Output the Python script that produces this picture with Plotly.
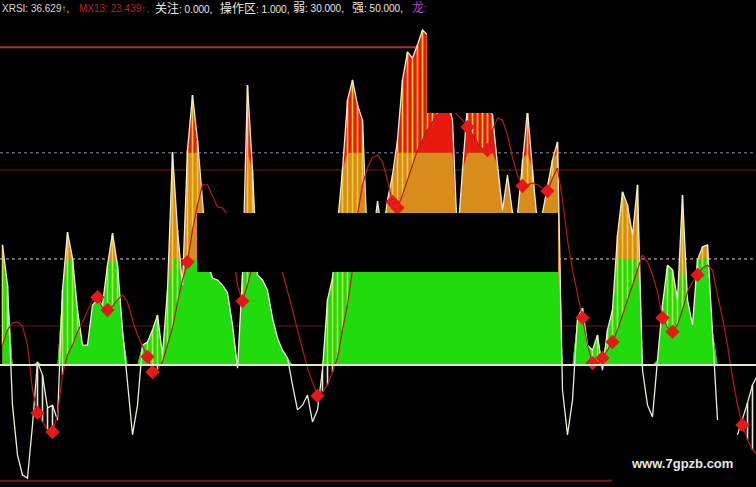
import numpy as np
import plotly.graph_objects as go

# ---------------- data (indicator units) ----------------
xrsi = [30.8, 20.5, -10.3, -23.1, -28.2, -29.0, -15.4, 0.8, -2.6, -11.0,
        -10.3, -14.1, 19.2, 34.1, 27.4, 14.1, 5.1, 5.1, 15.4, 16.7,
        15.4, 25.6, 33.8, 25.6, 9.0, -5.1, -17.9, -10.3, 5.1, 5.9,
        9.0, 12.8, 2.6, 19.2, 54.6, 34.6, 20.5, 55.1, 69.2, 57.7,
        41.0, 26.4, 22.3, 21.8, 20.5, 18.5, 10.3, -0.8, 23.1, 71.8,
        50.0, 23.1, 21.8, 19.2, 12.1, 6.9, 3.8, 1.8, -5.1, -11.5,
        -10.3, -7.7, -14.6, -11.5, -1.3, 16.7, 22.3, 35.9, 50.0, 67.9,
        73.1, 66.7, 62.8, 30.0, 31.0, 42.0, 33.0, 42.3, 48.7, 57.7,
        73.1, 80.3, 78.7, 82.1, 85.9, 84.6, 78.2, 73.1, 70.5, 67.9,
        62.8, 32.1, 50.0, 66.7, 67.9, 66.7, 65.4, 66.7, 64.1, 51.3,
        39.7, 48.7, 39.0, 38.5, 52.6, 65.4, 50.0, 35.9, 39.0, 46.2,
        52.6, 57.2, -6.4, -17.9, -9.0, 12.1, 14.6, 5.1, 3.8, 7.7,
        -1.3, 9.0, 14.1, 33.3, 44.4, 41.0, 33.3, 46.2, -1.3, -10.3,
        -13.3, 1.3, 15.4, 25.6, 24.4, 16.7, 43.6, 16.7, 10.3, 26.9,
        30.3, 30.8, 9.0, -14.1, None, None, None, -17.9, -14.1, -9.7,
        -5.1, -2.6]

mx13 = [5.1, 9.0, 10.8, 11.0, 10.0, 5.1, -6.4, -12.3, -14.6, -16.7,
        -17.2, -12.8, -2.6, 2.6, 5.1, 8.5, 11.0, 14.1, 16.7, 17.4,
        14.6, 14.1, 15.1, 16.7, 17.9, 16.2, 11.5, 7.7, 5.1, 2.1,
        -1.8, -1.3, 0.8, 5.1, 9.5, 15.9, 21.8, 26.4, 34.6, 41.0,
        46.2, 46.2, 43.1, 40.5, 40.3, 38.5, 29.5, 20.5, 16.4, 20.5,
        25.6, 29.5, 30.8, 30.3, 28.2, 26.4, 23.8, 19.2, 14.1, 9.0,
        3.8, -0.8, -4.4, -7.9, -6.9, -5.1, -1.8, 1.8, 9.0, 15.4,
        24.4, 38.5, 46.2, 50.5, 53.3, 53.8, 52.1, 47.4, 41.8, 40.3,
        43.6, 47.4, 51.3, 55.1, 57.7, 60.3, 62.3, 64.1, 65.4, 65.9,
        65.4, 64.1, 62.8, 61.0, 59.0, 56.9, 55.1, 55.1, 60.3, 63.3,
        62.8, 59.0, 53.1, 48.7, 45.9, 46.2, 46.7, 46.2, 45.4, 44.6,
        47.9, 50.5, 42.3, 32.1, 24.4, 18.5, 12.1, 5.1, 0.5, 0.0,
        1.8, 3.8, 5.9, 9.0, 12.8, 16.7, 20.5, 24.9, 28.2, 26.4,
        23.1, 18.7, 12.1, 9.7, 8.5, 10.3, 14.1, 18.7, 21.3, 23.1,
        24.9, 25.6, 24.4, 17.9, 12.1, 5.1, -3.3, -10.3, -15.4, -19.2,
        -21.8, -23.1]

signal_idx = [7, 10, 19, 21, 29, 30, 37, 48, 63, 78, 79, 93, 97, 104, 109,
              116, 118, 120, 122, 132, 134, 139, 148]

lvl_top = 81.5
lvl_high_dot = 54.4
lvl_50 = 50.0
lvl_low_dot = 27.2
lvl_10 = 10.0
lvl_zero = 0.0
lvl_bottom = -29.7

header_labels = ["XRSI: 36.629↑,", "MX13: 23.439↑,", "关注: 0.000,",
                 "操作区: 1.000,", "弱: 30.000,", "强: 50.000,", "龙:"]
watermark = "www.7gpzb.com"

# ---------------- figure ----------------
W, H = 756, 487
idx = np.arange(len(xrsi))
v = np.array([np.nan if a is None else a for a in xrsi], dtype=float)
m = np.array(mx13, dtype=float)

pos = np.where(np.isnan(v), 0.0, np.clip(v, 0, None))

fig = go.Figure()

# layered fills (red > orange > green)
for yy, col in [(pos, "#e81a10"),
                (np.minimum(pos, lvl_high_dot), "#d88c1c"),
                (np.minimum(pos, lvl_low_dot), "#20dc0c")]:
    fig.add_trace(go.Scatter(x=idx, y=yy, mode="lines", fill="tozeroy",
                             fillcolor=col, line=dict(width=0, color=col),
                             hoverinfo="skip", showlegend=False))

# stripes where XRSI above MX13
up = (~np.isnan(v)) & (v > m)
zones = [(-200.0, lvl_zero, "#e6e6cc"),
         (lvl_zero, lvl_low_dot, "#b8ee48"),
         (lvl_low_dot, 200.0, "#f4cc34")]
for lo, hi, col in zones:
    b = np.maximum(m, lo)
    t = np.minimum(np.nan_to_num(v, nan=-999), hi)
    ok = up & (t > b)
    xs, ys = [], []
    for i in idx[ok]:
        xs += [i, i, None]
        ys += [b[i], t[i], None]
    fig.add_trace(go.Scatter(x=xs, y=ys, mode="lines",
                             line=dict(width=1.6, color=col),
                             hoverinfo="skip", showlegend=False))

# XRSI line
fig.add_trace(go.Scatter(x=idx, y=v, mode="lines", connectgaps=False,
                         line=dict(width=1.3, color="#ecebd6"),
                         showlegend=False))
# MX13 line
fig.add_trace(go.Scatter(x=idx, y=m, mode="lines",
                         line=dict(width=1.2, color="#b01c1c"),
                         showlegend=False))
# signal diamonds
fig.add_trace(go.Scatter(x=signal_idx, y=[mx13[i] for i in signal_idx],
                         mode="markers",
                         marker=dict(symbol="diamond", size=11, color="#e81818",
                                     line=dict(width=0)),
                         showlegend=False))

shapes = []
def hline(y, color, width, dash="solid", layer="below", x0=0, x1=1):
    shapes.append(dict(type="line", xref="paper", yref="y", x0=x0, x1=x1,
                       y0=y, y1=y, layer=layer,
                       line=dict(color=color, width=width, dash=dash)))

hline(lvl_top, "#b82a2a", 2)
hline(lvl_50, "#7a1c1c", 1)
hline(lvl_10, "#6a1818", 1)
hline(lvl_high_dot, "#8c8cb0", 1, "dot")
hline(lvl_low_dot, "#cfcfcf", 1, "dot")
hline(lvl_zero, "#dfe9cf", 2, layer="above")
hline(lvl_bottom, "#6e1616", 2, x0=0, x1=0.81)

# black cover boxes
def pbox(x0, x1, y0, y1):
    shapes.append(dict(type="rect", xref="paper", yref="paper",
                       x0=x0 / W, x1=x1 / W, y0=1 - y1 / H, y1=1 - y0 / H,
                       fillcolor="black", line=dict(width=0), layer="above"))

pbox(197, 558, 213, 272)
pbox(427, 757, -2, 113)


def cjk_wrap(s):
    out = ""
    for ch in s:
        if ord(ch) >= 0x2E80:
            out += '<span style="font-size:12px">' + ch + "</span>"
        else:
            out += ch
    return out


annotations = []
hx = [0, 77, 153, 218, 291, 350, 410]
hcol = ["#d8d8d8", "#b82020", "#e8e8e8", "#e8e8d8", "#e8e8e8", "#e8e8e8", "#c040d0"]
for text, x, c in zip(header_labels, hx, hcol):
    annotations.append(dict(text=cjk_wrap(text), x=x / W, y=1 - 8 / H,
                            xref="paper", yref="paper", xanchor="left",
                            yanchor="middle", showarrow=False,
                            font=dict(family="Liberation Sans, Noto Sans CJK SC",
                                      size=10, color=c)))
annotations.append(dict(text="<b>" + watermark + "</b>", x=682 / W, y=1 - 463 / H,
                        xref="paper", yref="paper", xanchor="center",
                        yanchor="middle", showarrow=False,
                        font=dict(family="Liberation Sans", size=13, color="#e6e6e6")))

y_max = 365 / 3.9
y_min = -(H - 365) / 3.9
fig.update_layout(
    width=W, height=H, margin=dict(l=0, r=0, t=0, b=0),
    paper_bgcolor="black", plot_bgcolor="black",
    xaxis=dict(range=[-0.5, W / 5 - 0.5], visible=False, fixedrange=True),
    yaxis=dict(range=[y_min, y_max], visible=False, fixedrange=True),
    shapes=shapes, annotations=annotations, showlegend=False,
    hovermode=False,
)
fig.write_html("out.html", config={"displayModeBar": False},
               post_script="document.body.style.margin='0';"
                           "document.body.style.padding='0';"
                           "document.body.style.background='black';")
